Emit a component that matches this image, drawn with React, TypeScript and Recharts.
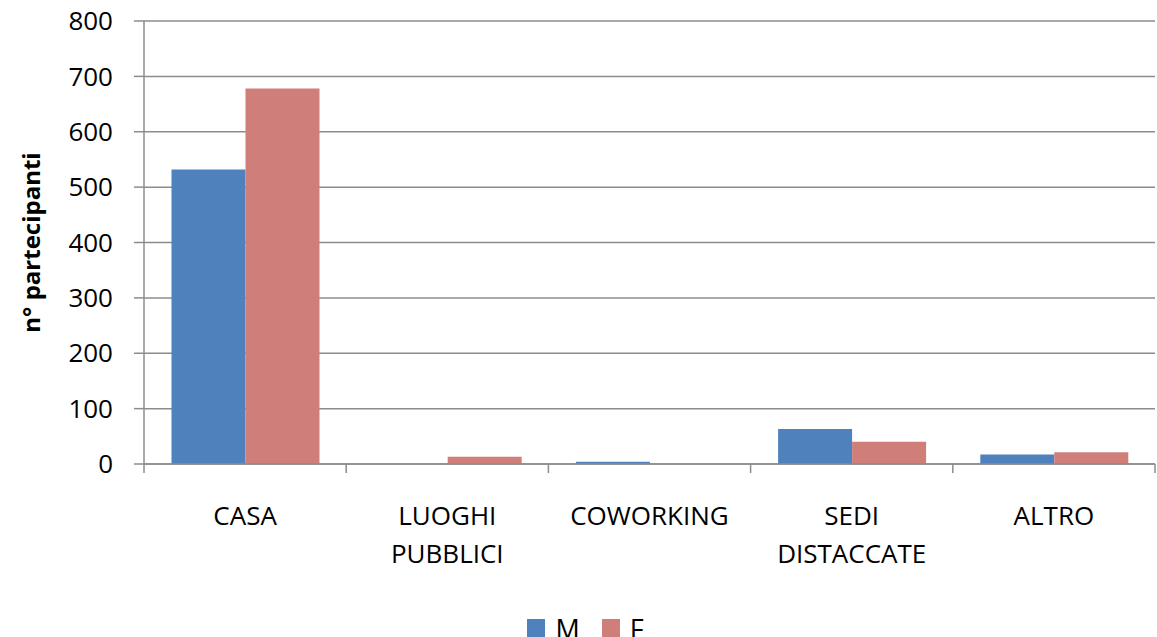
import React from 'react';
import { BarChart, Bar, XAxis, YAxis, CartesianGrid, Legend, Label } from 'recharts';

// luoghi di lavoro
const categories = ['CASA', 'LUOGHI PUBBLICI', 'COWORKING', 'SEDI DISTACCATE', 'ALTRO'];
const tickLabels = [['CASA'], ['LUOGHI', 'PUBBLICI'], ['COWORKING'], ['SEDI', 'DISTACCATE'], ['ALTRO']];
const maschi = [532, 0, 4, 63, 17];
const femmine = [678, 13, 0, 40, 21];
const yTicks = [0, 100, 200, 300, 400, 500, 600, 700, 800];

const data = categories.map((name, i) => ({ name, M: maschi[i], F: femmine[i] }));

const FONT = '"Open Sans", sans-serif';
const GRID = '#8c8c8c';
const BLUE = '#4f81bd';
const RED = '#d07e7a';

const CategoryTick = (props: any) => {
  const { x, y, payload, index } = props;
  const half = payload.offset ?? 101;
  const lines = tickLabels[index] || [payload.value];
  return (
    <g>
      <line x1={x - half} y1={y} x2={x - half} y2={y + 9} stroke={GRID} strokeWidth={1.5} />
      {index === categories.length - 1 && (
        <line x1={x + half} y1={y} x2={x + half} y2={y + 9} stroke={GRID} strokeWidth={1.5} />
      )}
      <text x={x} y={y + 52} textAnchor="middle" fontFamily={FONT} fontSize={26} fill="#000">
        {lines.map((l: string, i: number) => (
          <tspan key={i} x={x} dy={i === 0 ? '0.35em' : 38}>
            {l}
          </tspan>
        ))}
      </text>
    </g>
  );
};

const LegendBox = () => (
  <div style={{ display: 'flex', justifyContent: 'center', paddingTop: 18, paddingLeft: 36, fontFamily: FONT, fontSize: 27, lineHeight: 1 }}>
    {[
      { k: 'M', c: BLUE },
      { k: 'F', c: RED },
    ].map((it) => (
      <div key={it.k} style={{ display: 'flex', alignItems: 'flex-start', marginRight: 22 }}>
        <div style={{ width: 18, height: 18, background: it.c, marginTop: 4, marginRight: 10 }} />
        <span>{it.k}</span>
      </div>
    ))}
  </div>
);

export default function App() {
  return (
    <div style={{ position: 'absolute', left: 0, top: 0, width: 1157, height: 637, background: '#fff' }}>
      <BarChart
        width={1157}
        height={637}
        data={data}
        margin={{ top: 21, right: 2, left: 0, bottom: 0 }}
        barCategoryGap="13.6%"
        barGap={0}
      >
        <CartesianGrid vertical={false} stroke={GRID} strokeWidth={1.5} />
        <XAxis
          dataKey="name"
          height={133}
          axisLine={{ stroke: GRID, strokeWidth: 1.5 }}
          tickLine={false}
          tickSize={0}
          tickMargin={0}
          interval={0}
          tick={<CategoryTick />}
        />
        <YAxis
          width={144}
          domain={[0, 800]}
          ticks={yTicks}
          interval={0}
          axisLine={{ stroke: GRID, strokeWidth: 1.5 }}
          tickLine={{ stroke: GRID, strokeWidth: 1.5 }}
          tickSize={10}
          tickMargin={21}
          tick={{ fontFamily: FONT, fontSize: 26, fill: '#000' }}
        >
          <Label
            content={({ viewBox }: any) => (
              <text
                transform={`translate(${viewBox.x + 30}, ${viewBox.y + viewBox.height / 2}) rotate(-90)`}
                textAnchor="middle"
                dominantBaseline="central"
                fontFamily={FONT}
                fontWeight="bold"
                fontSize={24}
                fill="#000"
              >
                n° partecipanti
              </text>
            )}
          />
        </YAxis>
        <Legend verticalAlign="bottom" height={40} wrapperStyle={{ left: 0, width: 1157 }} content={<LegendBox />} />
        <Bar dataKey="M" fill={BLUE} isAnimationActive={false} />
        <Bar dataKey="F" fill={RED} isAnimationActive={false} />
      </BarChart>
    </div>
  );
}
